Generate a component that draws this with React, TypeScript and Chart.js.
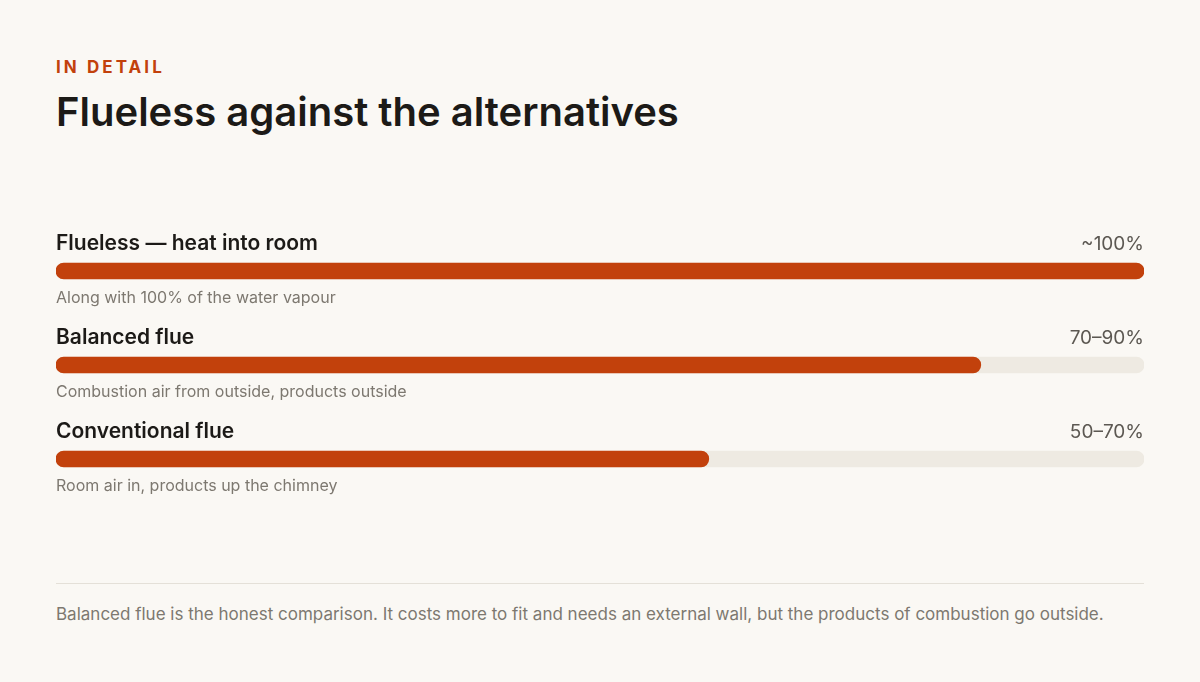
import React, { useEffect, useRef } from 'react';
import { Chart, registerables } from 'chart.js';

Chart.register(...registerables);

const categories = ['Flueless — heat into room', 'Balanced flue', 'Conventional flue'];
const values = [100, 85, 60];
const valueLabels = ['~100%', '70–90%', '50–70%'];
const notes = [
  'Along with 100% of the water vapour',
  'Combustion air from outside, products outside',
  'Room air in, products up the chimney',
];
const trackValues = [100, 100, 100];

const ORANGE = '#c2410c';
const TRACK = '#eeeae2';
const FONT = 'Inter, "Noto Sans", sans-serif';

const rowText = {
  id: 'rowText',
  afterDatasetsDraw(chart: any) {
    const { ctx, chartArea, scales } = chart;
    ctx.save();
    ctx.textBaseline = 'middle';
    categories.forEach((name, i) => {
      const y = scales.y.getPixelForValue(i);
      ctx.fillStyle = '#1c1a17';
      ctx.font = `600 21px ${FONT}`;
      ctx.textAlign = 'left';
      ctx.fillText(name, chartArea.left, y - 27);
      ctx.fillStyle = '#5c5852';
      ctx.font = `400 19px ${FONT}`;
      ctx.textAlign = 'right';
      ctx.fillText(valueLabels[i], chartArea.right, y - 27);
      ctx.fillStyle = '#7d7870';
      ctx.font = `400 16px ${FONT}`;
      ctx.textAlign = 'left';
      ctx.fillText(notes[i], chartArea.left, y + 27);
    });
    ctx.restore();
  },
};

const BarRows: React.FC = () => {
  const canvasRef = useRef<HTMLCanvasElement>(null);
  const chartInstance = useRef<Chart>();

  useEffect(() => {
    if (!canvasRef.current) return;
    const ctx = canvasRef.current.getContext('2d');
    if (!ctx) return;
    if (chartInstance.current) chartInstance.current.destroy();
    chartInstance.current = new Chart(ctx, {
      type: 'bar',
      data: {
        labels: categories,
        datasets: [
          {
            label: 'Share',
            data: values,
            backgroundColor: ORANGE,
            borderRadius: 8,
            borderSkipped: false,
            barThickness: 16,
            grouped: false,
            order: 1,
          },
          {
            label: 'Track',
            data: trackValues,
            backgroundColor: TRACK,
            borderRadius: 8,
            borderSkipped: false,
            barThickness: 16,
            grouped: false,
            order: 2,
          },
        ],
      },
      options: {
        indexAxis: 'y',
        animation: false,
        responsive: true,
        maintainAspectRatio: false,
        layout: { padding: 0 },
        plugins: { legend: { display: false }, tooltip: { enabled: false } },
        scales: {
          x: { display: false, min: 0, max: 100 },
          y: { display: false },
        },
      },
      plugins: [rowText],
    });
    return () => {
      if (chartInstance.current) {
        chartInstance.current.destroy();
        chartInstance.current = undefined;
      }
    };
  }, []);

  return <canvas ref={canvasRef} />;
};

export default function App() {
  useEffect(() => {
    document.body.style.margin = '0';
    document.body.style.background = '#faf8f4';
  }, []);

  return (
    <div
      style={{
        position: 'relative',
        width: 1200,
        height: 682,
        background: '#faf8f4',
        fontFamily: FONT,
        overflow: 'hidden',
      }}
    >
      <div
        style={{
          position: 'absolute',
          left: 56,
          top: 57,
          fontSize: 17,
          fontWeight: 700,
          letterSpacing: '0.18em',
          color: ORANGE,
          lineHeight: '20px',
        }}
      >
        IN DETAIL
      </div>
      <div
        style={{
          position: 'absolute',
          left: 56,
          top: 88,
          fontSize: 40,
          fontWeight: 600,
          color: '#1c1a17',
          lineHeight: '48px',
        }}
      >
        Flueless against the alternatives
      </div>
      <div style={{ position: 'absolute', left: 56, top: 224, width: 1088, height: 282 }}>
        <BarRows />
      </div>
      <div
        style={{
          position: 'absolute',
          left: 56,
          top: 583,
          width: 1088,
          height: 1,
          background: '#e4e0d8',
        }}
      />
      <div
        style={{
          position: 'absolute',
          left: 56,
          top: 602,
          fontSize: 17,
          color: '#7d7870',
          lineHeight: '24px',
          whiteSpace: 'nowrap',
        }}
      >
        Balanced flue is the honest comparison. It costs more to fit and needs an external wall, but the products of combustion go outside.
      </div>
    </div>
  );
}
